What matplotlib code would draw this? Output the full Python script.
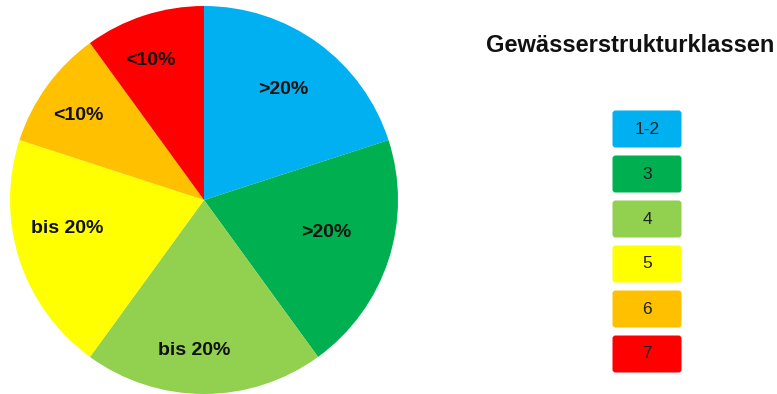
import numpy as np
import matplotlib.pyplot as plt
from matplotlib.patches import FancyBboxPatch

plt.rcParams['font.family'] = ['Liberation Sans', 'DejaVu Sans']

# -------------------------
# Data
# -------------------------
classes = ["1-2", "3", "4", "5", "6", "7"]
shares = [20, 20, 20, 20, 10, 10]
slice_labels = [">20%", ">20%", "bis 20%", "bis 20%", "<10%", "<10%"]
colors = ["#00B0F0", "#00B050", "#92D050", "#FFFF00", "#FFC000", "#FF0000"]
title = "Gewässerstrukturklassen"

# per-slice label placement: distance (fraction of radius), angle shift (deg)
label_dist = [0.70, 0.65, 0.78, 0.72, 0.78, 0.77]
label_shift = [0.5, 3.0, -3.8, -6.4, 2.0, 3.0]

fig = plt.figure(figsize=(7.77, 3.94), dpi=100)

# -------------------------
# Pie
# -------------------------
ax = fig.add_axes([10 / 777, 0.0, 388 / 777, 388 / 394])
wedges, texts = ax.pie(shares, colors=colors, startangle=90, counterclock=False,
                       labels=slice_labels, labeldistance=0.72,
                       textprops=dict(fontsize=14, fontweight="bold", color="#111111",
                                      ha="center", va="center"),
                       wedgeprops=dict(linewidth=0))
for w, t, d, s in zip(wedges, texts, label_dist, label_shift):
    ang = np.deg2rad((w.theta1 + w.theta2) / 2 + s)
    t.set_position((d * np.cos(ang), d * np.sin(ang)))
    t.set_ha("center")
ax.set_xlim(-1, 1)
ax.set_ylim(-1, 1)
ax.set_aspect("equal")

# -------------------------
# Legend (boxes with class numbers)
# -------------------------
lax = fig.add_axes([0, 0, 1, 1])
lax.set_xlim(0, 777)
lax.set_ylim(394, 0)
lax.axis("off")

lax.text(630, 45, title, fontsize=17, fontweight="bold", ha="center", va="center",
         color="#111111")

for i, (c, col) in enumerate(zip(classes, colors)):
    yc = 129 + i * 45
    box = FancyBboxPatch((614, yc - 17), 66, 34,
                         boxstyle="round,pad=1.5,rounding_size=3",
                         facecolor=col, edgecolor="none")
    lax.add_patch(box)
    lax.text(647, yc, c, fontsize=12.5, ha="center", va="center", color="#222222")

fig.savefig("out.png", dpi=100)
